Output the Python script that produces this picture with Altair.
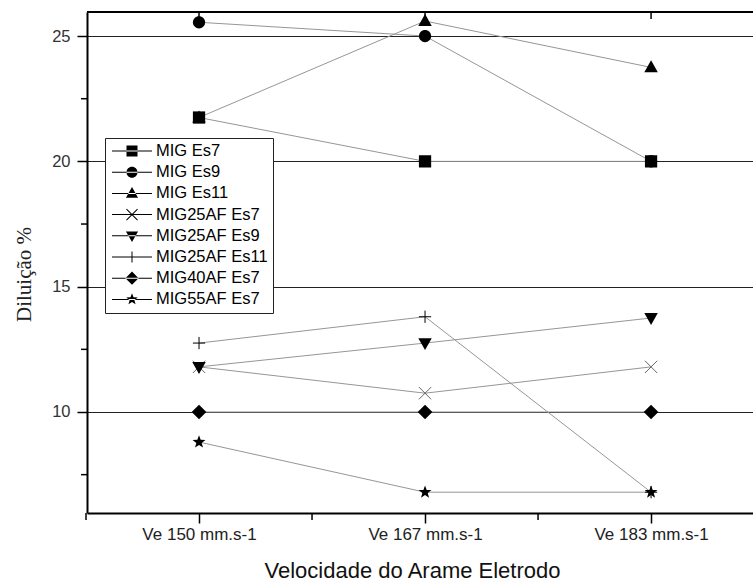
import json
import math
import altair as alt
import pandas as pd

# Wire feed speeds (x categories) and the welding series
categories = ["Ve 150 mm.s-1", "Ve 167 mm.s-1", "Ve 183 mm.s-1"]
series = ["MIG Es7", "MIG Es9", "MIG Es11", "MIG25AF Es7",
          "MIG25AF Es9", "MIG25AF Es11", "MIG40AF Es7", "MIG55AF Es7"]

# Dilution (%) per series at each speed
mig_es7 = [21.75, 20.0, 20.0]
mig_es9 = [25.55, 25.0, 20.0]
mig_es11 = [21.75, 25.6, 23.75]
mig25af_es7 = [11.8, 10.75, 11.8]
mig25af_es9 = [11.8, 12.75, 13.75]
mig25af_es11 = [12.75, 13.8, 6.8]
mig40af_es7 = [10.0, 10.0, 10.0]
mig55af_es7 = [8.8, 6.8, 6.8]

values = [mig_es7, mig_es9, mig_es11, mig25af_es7,
          mig25af_es9, mig25af_es11, mig40af_es7, mig55af_es7]

y_major = [10, 15, 20, 25]
y_minor = [7.5, 12.5, 17.5, 22.5]
x_major = [0, 1, 2]
x_minor = [-0.5, 0.5, 1.5]

rows = [{"serie": s, "pos": i, "valor": v}
        for s, vals in zip(series, values) for i, v in enumerate(vals)]
df = pd.DataFrame(rows)

# ---- marker geometry (unit coordinates) ----
SHAPES = {
    "square": [([(-1, -1), (1, -1), (1, 1), (-1, 1)], True)],
    "triangle_up": [([(0, -1.15), (1.1, 0.8), (-1.1, 0.8)], True)],
    "triangle_down": [([(-1.1, -0.8), (1.1, -0.8), (0, 1.15)], True)],
    "diamond": [([(0, -1.2), (1.2, 0), (0, 1.2), (-1.2, 0)], True)],
    "star": [([(0, -1.1), (0.27, -0.37), (1.05, -0.34), (0.44, 0.14),
               (0.65, 0.89), (0, 0.46), (-0.65, 0.89), (-0.44, 0.14),
               (-1.05, -0.34), (-0.27, -0.37)], True)],
    "x": [([(-1, -1), (1, 1)], False), ([(-1, 1), (1, -1)], False)],
    "plus": [([(-1, 0), (1, 0)], False), ([(0, -1), (0, 1)], False)],
}


def poly(pts):
    return "M" + "L".join(f"{x:.4f},{y:.4f}" for x, y in pts) + "Z"


def bar(x1, y1, x2, y2, t):
    """Thin filled quad along a segment (half thickness t)."""
    dx, dy = x2 - x1, y2 - y1
    n = math.hypot(dx, dy)
    nx, ny = -dy / n * t, dx / n * t
    return poly([(x1 + nx, y1 + ny), (x2 + nx, y2 + ny),
                 (x2 - nx, y2 - ny), (x1 - nx, y1 - ny)])


def marker_path(shape, k=1.0, fill_t=None):
    """Marker outline scaled by k; with fill_t, open strokes become thin quads."""
    if shape == "circle":
        return (f"M{k:.4f},0A{k:.4f},{k:.4f},0,1,1,{-k:.4f},0"
                f"A{k:.4f},{k:.4f},0,1,1,{k:.4f},0Z")
    out = []
    for pts, closed in SHAPES[shape]:
        sp = [(x * k, y * k) for x, y in pts]
        if closed:
            out.append(poly(sp))
        elif fill_t is not None:
            out.append(bar(sp[0][0], sp[0][1], sp[1][0], sp[1][1], fill_t))
        else:
            out.append("M" + "L".join(f"{x:.4f},{y:.4f}" for x, y in sp))
    return "".join(out)


series_shape = ["square", "circle", "triangle_up", "x",
                "triangle_down", "plus", "diamond", "star"]
series_filled = [True, True, True, False, True, False, True, True]
series_color = ["black", "black", "black", "#666666",
                "black", "black", "black", "black"]

W, H = 666, 501
xs = alt.Scale(domain=[-0.4956, 2.451], nice=False, zero=False)
ys = alt.Scale(domain=[5.97, 25.96], nice=False, zero=False)

label_expr = f"{json.dumps(categories)}[datum.value]"

x_axis = alt.Axis(
    values=x_major, labelExpr=label_expr, grid=False,
    tickSize=10, tickWidth=1.5, tickColor="black",
    domainColor="black", domainWidth=2,
    labelFont="Liberation Sans", labelFontSize=17, labelColor="#222",
    labelPadding=3,
    title="Velocidade do Arame Eletrodo", titleFont="Liberation Sans",
    titleFontSize=22, titleFontWeight="normal", titleColor="#111",
    titlePadding=18, titleX=325,
)
y_axis = alt.Axis(
    values=y_major, grid=True, gridColor="#222", gridWidth=1, gridOpacity=1,
    tickSize=10, tickWidth=1.5, tickColor="black",
    domainColor="black", domainWidth=2,
    labelFont="Liberation Sans", labelFontSize=16.5, labelColor="#333",
    labelPadding=7,
    title="Diluição %", titleFont="Liberation Serif", titleFontSize=21,
    titleFontWeight="normal", titleColor="#222", titlePadding=17, titleY=262,
)

# every layer shares the same positional encodings so the axes merge cleanly
X = alt.X("pos:Q", scale=xs, axis=x_axis)
Y = alt.Y("valor:Q", scale=ys, axis=y_axis)

base = alt.Chart(df)

# connecting lines
lines = base.mark_line(color="#969696", strokeWidth=1).encode(
    x=X, y=Y, detail="serie:N", order="pos:Q",
)

# markers, one layer per series
point_layers = []
for s, shp, filled, col in zip(series, series_shape, series_filled, series_color):
    if filled:
        mk = base.transform_filter(alt.datum.serie == s).mark_point(
            shape=marker_path(shp), filled=True, color=col, size=150, opacity=1)
    else:
        mk = base.transform_filter(alt.datum.serie == s).mark_point(
            shape=marker_path(shp), filled=False, stroke=col, strokeWidth=1,
            size=150, opacity=1)
    point_layers.append(mk.encode(x=X, y=Y))

# minor ticks and the top frame
minor_y = alt.Chart(pd.DataFrame({"valor": y_minor})).mark_rule(
    color="black", strokeWidth=1.5).encode(y=Y, x=alt.value(-6), x2=alt.value(0))
minor_x = alt.Chart(pd.DataFrame({"pos": x_minor})).mark_rule(
    color="black", strokeWidth=1.5).encode(x=X, y=alt.value(H), y2=alt.value(H + 7))
top_ticks = alt.Chart(pd.DataFrame({"pos": x_major})).mark_rule(
    color="black", strokeWidth=1.5).encode(x=X, y=alt.value(0), y2=alt.value(7))
top_frame = alt.Chart(pd.DataFrame({"pos": [0]})).mark_rule(
    color="black", strokeWidth=2).encode(
    x=alt.value(0), x2=alt.value(W), y=alt.value(0))

# legend: a short line through each marker, all drawn as filled geometry
LEG_LEN = 40
half = LEG_LEN / 2.0
t = 0.5 / half
legend_paths = [bar(-1, 0, 1, 0, t) + marker_path(shp, 5.5 / half, fill_t=t)
                for shp in series_shape]
legend_layer = base.transform_filter("false").mark_point(
    filled=True, color="black", opacity=1
).encode(
    x=X, y=Y,
    shape=alt.Shape("serie:N", scale=alt.Scale(domain=series, range=legend_paths),
                    legend=alt.Legend(
                        title=None, orient="none", legendX=18, legendY=126,
                        symbolSize=LEG_LEN * LEG_LEN, symbolStrokeWidth=0,
                        symbolFillColor="black", symbolOpacity=1,
                        symbolOffset=2,
                        clipHeight=16, rowPadding=4.2,
                        labelFont="Liberation Sans", labelFontSize=16.5,
                        labelColor="black", labelOffset=4,
                        padding=5, strokeColor="#222", fillColor="white",
                    )),
)

chart = alt.layer(
    lines, *point_layers, minor_y, minor_x, top_ticks, top_frame, legend_layer
).properties(
    width=W, height=H,
    autosize=alt.AutoSizeParams(type="none"),
    padding={"left": 87, "top": 12, "right": 0, "bottom": 71},
    background="white",
).configure_view(stroke=None)

chart.save("out.html", embed_options={"renderer": "svg", "actions": False})
